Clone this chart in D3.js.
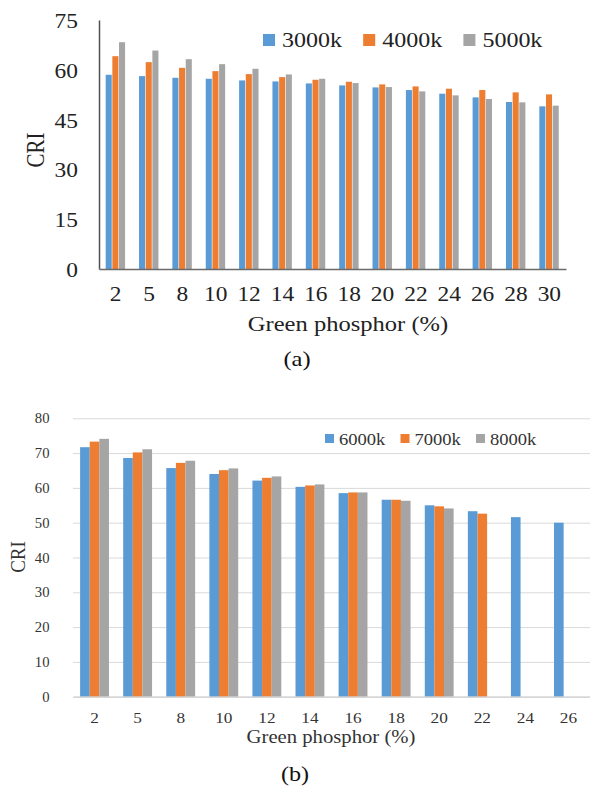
<!DOCTYPE html>
<html>
<head>
<meta charset="utf-8">
<script src="https://cdn.jsdelivr.net/npm/d3@7"></script>
<style>
  html, body { margin: 0; padding: 0; background: #fff; }
  svg { display: block; }
  text { font-family: "Liberation Serif", "Times New Roman", serif; }
</style>
</head>
<body>
<svg id="chart" width="590" height="790"></svg>
<script>
// ---------- Data: chart (a) ----------
const catsA = ["2","5","8","10","12","14","16","18","20","22","24","26","28","30"];
const seriesNamesA = ["3000k","4000k","5000k"];
const vals3000 = [58.5,58.1,57.6,57.3,56.8,56.5,55.9,55.3,54.7,53.9,52.8,51.7,50.3,49.0];
const vals4000 = [64.1,62.3,60.6,59.6,58.7,57.8,57.0,56.4,55.6,55.0,54.3,53.9,53.2,52.6];
const vals5000 = [68.3,65.8,63.2,61.7,60.3,58.6,57.3,56.0,54.8,53.5,52.3,51.2,50.2,49.2];
const ticksA = [0,15,30,45,60,75];

// ---------- Data: chart (b) ----------
const catsB = ["2","5","8","10","12","14","16","18","20","22","24","26"];
const seriesNamesB = ["6000k","7000k","8000k"];
const vals6000 = [71.7,68.6,65.7,64.0,62.1,60.3,58.5,56.6,55.0,53.3,51.6,50.0];
const vals7000 = [73.3,70.2,67.2,65.1,62.9,60.7,58.7,56.6,54.7,52.6,null,null];
const vals8000 = [74.1,71.1,67.8,65.6,63.3,61.0,58.7,56.3,54.1,null,null,null];
const ticksB = [0,10,20,30,40,50,60,70,80];

const colors = ["#5b9bd5","#ed7d31","#a5a5a5"];

const svg = d3.select("#chart");

function stretchedText(g, x, y, str, opts) {
  const sx = opts.sx || 1;
  const rot = opts.rotate ? ` rotate(${opts.rotate})` : "";
  return g.append("text")
    .attr("transform", `translate(${x},${y}) scale(${sx},1)${rot}`)
    .attr("text-anchor", opts.anchor || "start")
    .attr("font-size", opts.size)
    .attr("fill", opts.fill || "#222")
    .text(str);
}

// ================= Chart (a) =================
{
  const g = svg.append("g");
  const x0 = d3.scaleBand().domain(catsA).range([99, 566]).paddingInner(0.4).paddingOuter(0.2);
  const x1 = d3.scaleBand().domain(seriesNamesA).range([0, x0.bandwidth()]);
  const y = d3.scaleLinear().domain([0, 75]).range([269, 20]);
  const series = [vals3000, vals4000, vals5000];

  series.forEach((vals, si) => {
    g.append("g").selectAll("rect")
      .data(vals.map((v, i) => ({ c: catsA[i], v })))
      .join("rect")
      .attr("x", d => x0(d.c) + x1(seriesNamesA[si]))
      .attr("width", x1.bandwidth() - 0.6)
      .attr("y", d => y(d.v))
      .attr("height", d => y(0) - y(d.v))
      .attr("fill", colors[si]);
  });

  // axes lines
  const yAxis = d3.axisLeft(y).tickValues(ticksA).tickSize(0).tickFormat("");
  g.append("g").attr("transform", "translate(99,0)").call(yAxis)
    .select(".domain").attr("stroke", "#505050").attr("stroke-width", 1.5);
  const xAxis = d3.axisBottom(x0).tickSize(0).tickFormat("");
  g.append("g").attr("transform", `translate(0,${y(0)})`).call(xAxis)
    .select(".domain").attr("stroke", "#6a6a6a").attr("stroke-width", 1.5);

  // y tick labels
  ticksA.forEach(t => stretchedText(g, 78, y(t) + 8, String(t), { size: 20, sx: 1.17, anchor: "end" }));
  // x tick labels
  catsA.forEach(c => stretchedText(g, x0(c) + x0.bandwidth() / 2, 301, c, { size: 20, sx: 1.17, anchor: "middle" }));

  stretchedText(g, 44, 150, "CRI", { size: 21, sx: 1.17, anchor: "middle", rotate: -90 });
  stretchedText(g, 348, 331, "Green phosphor (%)", { size: 21, sx: 1.17, anchor: "middle" });
  stretchedText(g, 297, 366, "(a)", { size: 21, sx: 1.17, anchor: "middle", fill: "#111" });

  // legend
  seriesNamesA.forEach((name, i) => {
    const lx = 263 + i * 100.2;
    g.append("rect").attr("x", lx).attr("y", 34).attr("width", 12).attr("height", 12).attr("fill", colors[i]);
    stretchedText(g, lx + 19, 46.5, name, { size: 20, sx: 1.2 });
  });
}

// ================= Chart (b) =================
{
  const g = svg.append("g");
  const x0 = d3.scaleBand().domain(catsB).range([73, 590]).paddingInner(0.33).paddingOuter(0.165);
  const x1 = d3.scaleBand().domain(seriesNamesB).range([0, x0.bandwidth()]);
  const y = d3.scaleLinear().domain([0, 80]).range([696.7, 418.3]);
  const series = [vals6000, vals7000, vals8000];

  // gridlines
  const grid = d3.axisLeft(y).tickValues(ticksB).tickSize(-(590 - 73)).tickFormat("");
  const gg = g.append("g").attr("transform", "translate(73,0)").call(grid);
  gg.select(".domain").remove();
  gg.selectAll(".tick line").attr("stroke", "#d9d9d9").attr("stroke-width", 1);

  series.forEach((vals, si) => {
    g.append("g").selectAll("rect")
      .data(vals.map((v, i) => ({ c: catsB[i], v })).filter(d => d.v != null))
      .join("rect")
      .attr("x", d => x0(d.c) + x1(seriesNamesB[si]))
      .attr("width", x1.bandwidth())
      .attr("y", d => y(d.v))
      .attr("height", d => y(0) - y(d.v))
      .attr("fill", colors[si]);
  });

  // baseline axis
  const xAxis = d3.axisBottom(x0).tickSize(0).tickFormat("");
  g.append("g").attr("transform", `translate(0,${y(0)})`).call(xAxis)
    .select(".domain").attr("stroke", "#d0d0d0").attr("stroke-width", 1.2);

  ticksB.forEach(t => stretchedText(g, 49.5, y(t) + 5, String(t), { size: 14, sx: 1.05, anchor: "end", fill: "#333" }));
  catsB.forEach(c => stretchedText(g, x0(c) + x0.bandwidth() / 2, 723, c, { size: 15, sx: 1.15, anchor: "middle", fill: "#333" }));

  stretchedText(g, 25, 557, "CRI", { size: 19, sx: 1.12, anchor: "middle", rotate: -90, fill: "#333" });
  stretchedText(g, 331, 743, "Green phosphor (%)", { size: 18, sx: 1.15, anchor: "middle", fill: "#333" });
  stretchedText(g, 295, 781, "(b)", { size: 21, sx: 1.15, anchor: "middle", fill: "#111" });

  seriesNamesB.forEach((name, i) => {
    const lx = 325 + i * 75.5;
    g.append("rect").attr("x", lx).attr("y", 434).attr("width", 9).attr("height", 9).attr("fill", colors[i]);
    stretchedText(g, lx + 14, 445, name, { size: 16, sx: 1.16, fill: "#333" });
  });
}
</script>
</body>
</html>
